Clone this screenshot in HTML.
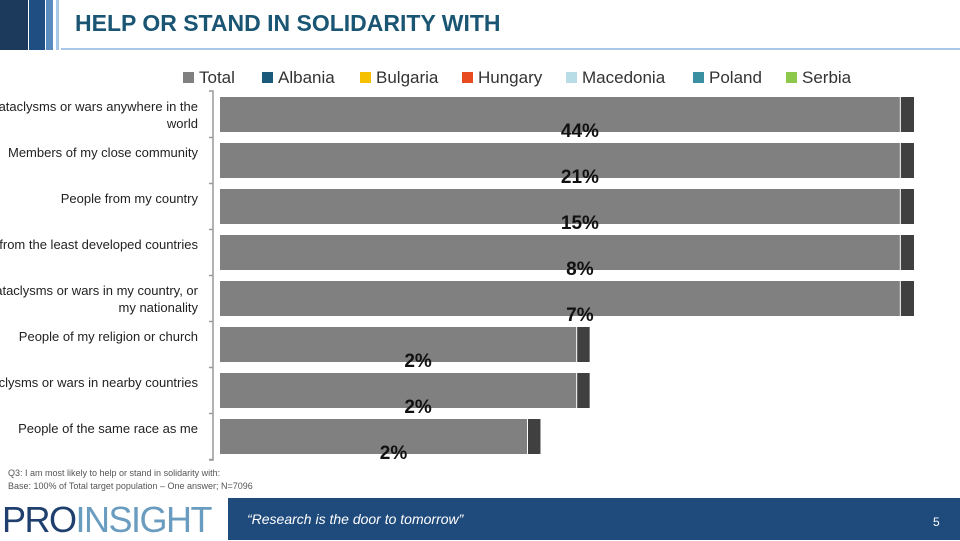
<!DOCTYPE html>
<html><head><meta charset="utf-8"><style>
body{margin:0;width:960px;height:540px;overflow:hidden;background:#fff;font-family:"Liberation Sans",sans-serif;position:relative}
.abs{position:absolute}
.cat{position:absolute;right:762px;width:300px;text-align:right;font-size:13px;color:#222;line-height:17px;white-space:nowrap}
.leg{position:absolute;top:68px;font-size:17px;color:#333;white-space:nowrap}
.leg i{display:inline-block;width:11px;height:11px;margin-right:5px;vertical-align:0px}
</style></head><body>
<div class="abs" style="left:0;top:0;width:28px;height:50px;background:#1b3a5c"></div>
<div class="abs" style="left:29px;top:0;width:16px;height:50px;background:#1f4e82"></div>
<div class="abs" style="left:46px;top:0;width:7px;height:50px;background:#5a8cc0"></div>
<div class="abs" style="left:56px;top:0;width:3px;height:50px;background:#a9c8e8"></div>
<div class="abs" style="left:61px;top:48px;width:899px;height:2px;background:#a9c8e8"></div>
<div class="abs" style="left:75px;top:10px;font-size:23px;font-weight:bold;color:#1a5573">HELP OR STAND IN SOLIDARITY WITH</div>

<div class="leg" style="left:183px"><i style="background:#808080"></i>Total</div>
<div class="leg" style="left:262px"><i style="background:#1b5a7a"></i>Albania</div>
<div class="leg" style="left:360px"><i style="background:#f5c000"></i>Bulgaria</div>
<div class="leg" style="left:462px"><i style="background:#e84b1f"></i>Hungary</div>
<div class="leg" style="left:566px"><i style="background:#b8dde6"></i>Macedonia</div>
<div class="leg" style="left:693px"><i style="background:#3a8fa0"></i>Poland</div>
<div class="leg" style="left:786px"><i style="background:#8cc84a"></i>Serbia</div>

<svg class="abs" style="left:0;top:0" width="960" height="540" id="chart"></svg>
<div id="cats"></div>

<div class="abs" style="left:8px;top:467px;font-size:9px;color:#555;line-height:13px">Q3: I am most likely to help or stand in solidarity with:<br>Base: 100% of Total target population – One answer; N=7096</div>
<div class="abs" style="left:2px;top:499px;font-size:36px;color:#1f3f6e;letter-spacing:-1.5px;font-weight:300">PRO<span style="color:#6a9cc0">INSIGHT</span></div>
<div class="abs" style="left:228px;top:498px;width:732px;height:42px;background:#1f4a7c"></div>
<div class="abs" style="left:247px;top:511px;font-size:14px;font-style:italic;color:#fff">“Research is the door to tomorrow”</div>
<div class="abs" style="left:933px;top:515px;font-size:12px;color:#fff">5</div>

<script>
const categories=["cataclysms or wars anywhere in the|world","Members of my close community","People from my country","from the least developed countries","cataclysms or wars in my country, or|my nationality","People of my religion or church","cataclysms or wars in nearby countries","People of the same race as me"];
const totalValues=[98.1,98.1,98.1,98.1,98.1,51.4,51.4,44.3];
const otherValues=[1.9,1.9,1.9,1.9,1.9,1.8,1.8,1.8];
const printedLabels=["44%","21%","15%","8%","7%","2%","2%","2%"];
const svg=document.getElementById('chart');
const NS='http://www.w3.org/2000/svg';
const x0=220,xw=693,y0=97,pitch=46,bh=35;
const xs=v=>v/100*xw;
const ys=i=>y0+i*pitch;
function mk(t,a){const e=document.createElementNS(NS,t);for(const k in a)e.setAttribute(k,a[k]);svg.appendChild(e);return e;}
const axis=mk('path',{d:`M209 ${y0-6} H213 V${ys(7)+bh+6} H209`,stroke:'#999',fill:'none','stroke-width':1.5});


const cd=document.getElementById('cats');
categories.forEach((c,i)=>{
  const y=ys(i);
  const t=mk('path',{d:`M209 ${y+bh+5.5} H213`,stroke:'#999','stroke-width':1.5});
  
  
  const g=mk('rect',{x:x0,y:y,width:xs(totalValues[i]),height:bh,fill:'#808080'});
  
  
  const d=mk('rect',{x:x0+xs(totalValues[i])+1,y:y,width:xs(otherValues[i]),height:bh,fill:'#404040'});
  
  
  const l=mk('text',{x:x0+xs(totalValues[i])/2+20,y:y+bh+5,'text-anchor':'middle','font-size':19,'font-weight':'bold',fill:'#111','font-family':'Liberation Sans, sans-serif'});
  l.textContent=printedLabels[i];
  
  
  const lab=document.createElement('div');
  lab.className='cat';
  c.split('|').forEach((s,j)=>{if(j)lab.appendChild(document.createElement('br'));lab.appendChild(document.createTextNode(s));});
  lab.style.top=(y+1)+'px';
  
  
  cd.appendChild(lab);
});
</script>
</body></html>
